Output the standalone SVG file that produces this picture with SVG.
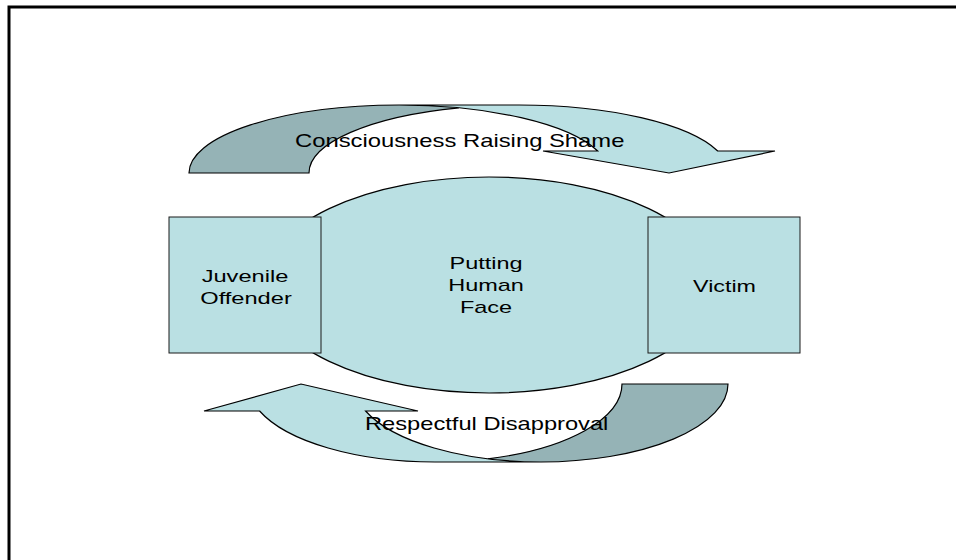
<svg xmlns="http://www.w3.org/2000/svg" width="956" height="560" viewBox="0 0 956 560">
  <style>
    .box { fill: #BAE0E3; stroke: #1a1a1a; stroke-width: 1; }
    .body { fill: #BAE0E3; stroke: none; }
    .shade { fill: #95B3B6; stroke: none; }
    .outline { fill: none; stroke: #000; stroke-width: 1.2; stroke-linejoin: miter; }
    text { font-family: "Liberation Sans", Arial, sans-serif; fill: #000; }
    .node { font-size: 17px; text-anchor: middle; }
    .lbl { font-size: 18.5px; }
  </style>

  <!-- outer frame -->
  <path d="M9,565 V7 H960" fill="none" stroke="#000" stroke-width="3"/>

  <!-- curved arrows -->
  <g id="connectors">
    <!-- top: curved down arrow, left leg shaded -->
    <g id="arrow-top">
      <path class="body" d="M669,173 L543,151 L597.7,151 A210,68 0 0,0 399,105 L519,105 A210,68 0 0,1 717.7,151 L775,151 Z"/>
      <path class="shade" d="M459,107.8 A210,68 0 0,0 309,173 L189,173 A210,68 0 0,1 459,107.8 Z"/>
      <path class="outline" d="M459,107.8 A210,68 0 0,0 309,173 L189,173 A210,68 0 0,1 399,105 L519,105 A210,68 0 0,1 717.7,151 L775,151 L669,173 L543,151 L597.7,151 A210,68 0 0,0 399,105"/>
      <text class="lbl" transform="translate(295,147) scale(1.287,1)">Consciousness Raising Shame</text>
    </g>
    <!-- bottom: same arrow turned half a turn, right leg shaded -->
    <g id="arrow-bottom">
      <path class="body" d="M301,384 L418,411 L365.6,411 A187,78 0 0,0 541,462 L435,462 A187,78 0 0,1 259.6,411 L204,411 Z"/>
      <path class="shade" d="M488,458.8 A187,78 0 0,0 622,384 L728,384 A187,78 0 0,1 488,458.8 Z"/>
      <path class="outline" d="M488,458.8 A187,78 0 0,0 622,384 L728,384 A187,78 0 0,1 541,462 L435,462 A187,78 0 0,1 259.6,411 L204,411 L301,384 L418,411 L365.6,411 A187,78 0 0,0 541,462"/>
      <text class="lbl" transform="translate(365,430) scale(1.28,1)">Respectful Disapproval</text>
    </g>
  </g>

  <!-- centre node -->
  <g id="node-face">
    <ellipse cx="489" cy="285" rx="226" ry="108" fill="#BAE0E3" stroke="#000" stroke-width="1.2"/>
    <text class="node" transform="translate(486,269) scale(1.38,1)">Putting</text>
    <text class="node" transform="translate(486,291) scale(1.38,1)">Human</text>
    <text class="node" transform="translate(486,313) scale(1.38,1)">Face</text>
  </g>

  <g id="node-offender">
    <rect class="box" x="169" y="217" width="152" height="136"/>
    <text class="node" transform="translate(245,282) scale(1.39,1)">Juvenile</text>
    <text class="node" transform="translate(246,304) scale(1.39,1)">Offender</text>
  </g>

  <g id="node-victim">
    <rect class="box" x="648" y="217" width="152" height="136"/>
    <text class="node" transform="translate(724.5,292) scale(1.37,1)">Victim</text>
  </g>
</svg>
